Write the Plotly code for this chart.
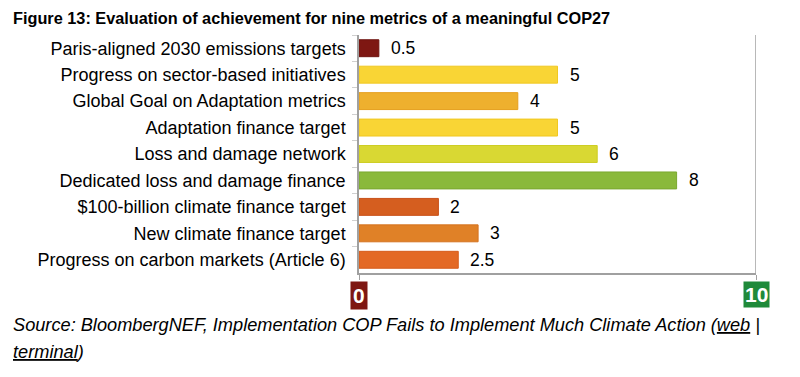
import plotly.graph_objects as go

categories = [
    "Paris-aligned 2030 emissions targets",
    "Progress on sector-based initiatives",
    "Global Goal on Adaptation metrics",
    "Adaptation finance target",
    "Loss and damage network",
    "Dedicated loss and damage finance",
    "$100-billion climate finance target",
    "New climate finance target",
    "Progress on carbon markets (Article 6)",
]
values = [0.5, 5, 4, 5, 6, 8, 2, 3, 2.5]
value_labels = ["0.5", "5", "4", "5", "6", "8", "2", "3", "2.5"]
bar_colors = ["#7e1712", "#f9d535", "#eeb02e", "#f9d535", "#d9d833",
              "#8ab93b", "#d55e1f", "#e08127", "#e36925"]
line_colors = ["#6e120e", "#f0c820", "#e59f1e", "#f0c820", "#cccc20",
               "#7aa830", "#c85018", "#d57220", "#d65d1c"]
axis_min_label, axis_max_label = "0", "10"
axis_range = [0, 10]

FONT = "Liberation Sans, Arial, sans-serif"

fig = go.Figure()
fig.add_trace(go.Bar(
    y=categories, x=values, orientation="h",
    marker=dict(color=bar_colors, line=dict(color=line_colors, width=1)),
    width=0.64, hoverinfo="skip",
))

for c, v, t in zip(categories, values, value_labels):
    fig.add_annotation(x=v, y=c, text=t, showarrow=False, xanchor="left",
                       xshift=10, font=dict(family=FONT, size=17.5, color="#000"))

fig.add_annotation(x=axis_range[0], y=0, yref="paper", yshift=-8, text="<b>" + axis_min_label + "</b>",
                   showarrow=False, xanchor="center", yanchor="top",
                   bgcolor="#7e1712", font=dict(family=FONT, size=21, color="white"),
                   borderpad=2)
fig.add_annotation(x=axis_range[1], y=0, yref="paper", yshift=-8, text="<b>" + axis_max_label + "</b>",
                   showarrow=False, xanchor="center", yanchor="top",
                   bgcolor="#1f8a3a", font=dict(family=FONT, size=21, color="white"),
                   borderpad=1)

fig.add_shape(type="line", x0=axis_range[1], x1=axis_range[1], y0=0, y1=1,
              xref="x", yref="paper", line=dict(color="#a0a0a0", width=1.5))

fig.add_annotation(x=0, y=1, xref="paper", yref="paper", xanchor="left", yanchor="bottom",
                   text="<b>Figure 13: Evaluation of achievement for nine metrics of a meaningful COP27</b>",
                   showarrow=False, font=dict(family=FONT, size=16.3, color="#000"),
                   xshift=-348, yshift=6)
fig.add_annotation(x=0, y=0, xref="paper", yref="paper", xanchor="left", yanchor="top",
                   text="<i>Source: BloombergNEF, Implementation COP Fails to Implement Much Climate Action (<u>web</u> |</i>",
                   showarrow=False, font=dict(family=FONT, size=18.2, color="#000"),
                   xshift=-348, yshift=-40)
fig.add_annotation(x=0, y=0, xref="paper", yref="paper", xanchor="left", yanchor="top",
                   text="<i><u>terminal</u>)</i>",
                   showarrow=False, font=dict(family=FONT, size=18.2, color="#000"),
                   xshift=-348, yshift=-67)

# page body has an 8px default margin; size the figure to fit the 800x377 window
fig.update_layout(
    width=792, height=369,
    margin=dict(l=351, r=44, t=27, b=104),
    plot_bgcolor="white", paper_bgcolor="white",
    showlegend=False,
    bargap=0.36,
    xaxis=dict(range=axis_range, showgrid=False, zeroline=False, showline=True,
               linecolor="#a0a0a0", linewidth=1.5, ticks="outside", tickcolor="#a0a0a0",
               ticklen=5, tickvals=axis_range, showticklabels=False, fixedrange=True,
               automargin=False),
    yaxis=dict(autorange="reversed", showgrid=False, showline=True, linecolor="#a0a0a0",
               linewidth=1.5, ticks="outside", tickson="boundaries", tickcolor="#d0d0d0",
               ticklen=5, ticklabelstandoff=8,
               tickfont=dict(family=FONT, size=18, color="#000"), fixedrange=True,
               automargin=False),
)

fig.write_html("out.html")
